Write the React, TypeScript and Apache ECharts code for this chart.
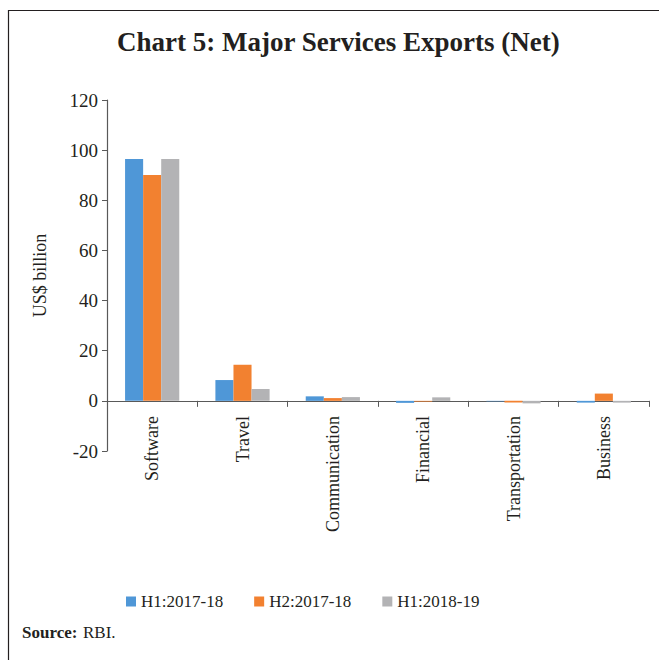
import React, { useEffect, useRef } from "react";
import * as echarts from "echarts";

const categories = ["Software", "Travel", "Communication", "Financial", "Transportation", "Business"];
const seriesNames = ["H1:2017-18", "H2:2017-18", "H1:2018-19"];
const h1_2017 = [96.5, 8.3, 1.8, -0.8, -0.2, -0.7];
const h2_2017 = [90.1, 14.4, 1.1, -0.3, -0.7, 2.9];
const h1_2018 = [96.5, 4.7, 1.5, 1.4, -1.0, -0.7];
const colors = ["#4F97D7", "#F28130", "#B3B3B5"];

const serif = "'Liberation Serif', 'DejaVu Serif', serif";

export default function App() {
  const ref = useRef<HTMLDivElement>(null);
  useEffect(() => {
    if (!ref.current) return;
    const chart = echarts.init(ref.current, undefined, { renderer: "svg" });
    const data = [h1_2017, h2_2017, h1_2018];
    chart.setOption({
      animation: false,
      backgroundColor: "#ffffff",
      title: {
        text: "Chart 5: Major Services Exports (Net)",
        left: 112,
        top: 23,
        textStyle: { fontFamily: serif, fontSize: 27, fontWeight: "bold", color: "#231F20" },
      },
      graphic: [
        {
          type: "rect",
          shape: { x: 8.5, y: 10.5, width: 700, height: 700 },
          style: { fill: "none", stroke: "#231F20", lineWidth: 1.2 },
          silent: true,
        },
        {
          type: "text",
          left: 22,
          top: 624,
          style: { text: "Source:", font: `bold 17px ${serif}`, fill: "#231F20" },
        },
        {
          type: "text",
          left: 83,
          top: 624,
          style: { text: "RBI.", font: `17px ${serif}`, fill: "#231F20" },
        },
      ],
      legend: {
        data: seriesNames,
        left: 121,
        top: 588,
        itemWidth: 10,
        itemHeight: 10,
        itemGap: 31,
        icon: "rect",
        textStyle: { fontFamily: serif, fontSize: 17, color: "#231F20" },
      },
      grid: { left: 107, right: 10, top: 100, bottom: 209, containLabel: false },
      xAxis: {
        type: "category",
        data: categories,
        axisLine: { onZero: true, lineStyle: { color: "#595959", width: 1.2 } },
        axisTick: { show: true, length: 6, lineStyle: { color: "#595959" } },
        axisLabel: {
          rotate: 90,
          margin: -35,
          interval: 0,
          fontFamily: serif,
          fontSize: 18,
          color: "#231F20",
        },
      },
      yAxis: {
        type: "value",
        min: -20,
        max: 120,
        interval: 20,
        name: "US$ billion",
        nameLocation: "middle",
        nameGap: 58,
        nameTextStyle: { fontFamily: serif, fontSize: 18, color: "#231F20" },
        axisLine: { show: true, lineStyle: { color: "#595959", width: 1.2 } },
        axisTick: { show: true, length: 5, lineStyle: { color: "#595959" } },
        splitLine: { show: false },
        axisLabel: { margin: 9, fontFamily: serif, fontSize: 19, color: "#231F20" },
      },
      series: seriesNames.map((name, i) => ({
        name,
        type: "bar",
        data: data[i],
        barGap: "0%",
        barCategoryGap: "40%",
        itemStyle: { color: colors[i] },
      })),
    });
    return () => chart.dispose();
  }, []);
  return <div ref={ref} style={{ position: "fixed", left: 0, top: 0, width: 659, height: 660 }} />;
}
